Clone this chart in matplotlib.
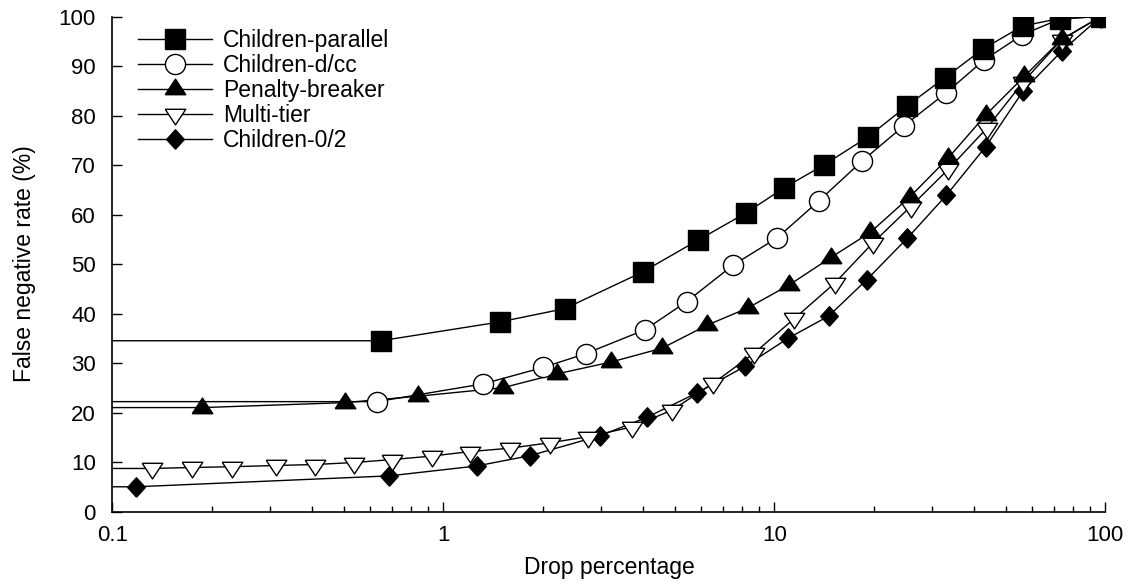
import numpy as np
import matplotlib.pyplot as plt
from matplotlib.lines import Line2D

plt.rcParams["font.family"] = ["Liberation Sans", "DejaVu Sans"]

XMIN, XMAX = 0.1, 100

par_x = [0.647, 1.48, 2.33, 4.0, 5.87, 8.2, 10.7, 14.1, 19.2, 25.1, 32.7, 42.6, 56.3, 72.9, 97]
par_y = [34.5, 38.3, 41.0, 48.4, 54.8, 60.3, 65.4, 70.0, 75.7, 81.9, 87.6, 93.4, 98.1, 99.6, 100]

dcc_x = [0.63, 1.32, 2.0, 2.69, 4.06, 5.43, 7.51, 10.2, 13.6, 18.4, 24.6, 32.9, 43.0, 56.1, 72.9, 97]
dcc_y = [22.2, 25.8, 29.1, 31.9, 36.7, 42.4, 49.8, 55.3, 62.7, 70.8, 77.9, 84.5, 91.2, 96.3, 99.5, 100]

pen_x = [0.187, 0.504, 0.84, 1.51, 2.2, 3.21, 4.58, 6.24, 8.3, 11.1, 14.8, 19.5, 25.7,
         33.5, 43.5, 56.9, 73.8, 97]
pen_y = [21.0, 22.0, 23.3, 25.0, 27.8, 30.2, 33.0, 37.6, 41.1, 45.8, 51.3, 56.4, 63.6,
         71.4, 80.1, 87.9, 95.4, 100]

mt_x = [0.132, 0.174, 0.230, 0.311, 0.409, 0.537, 0.700, 0.921, 1.20, 1.59, 2.10, 2.73,
        3.72, 4.91, 6.53, 8.69, 11.5, 15.2, 19.8, 25.8, 33.5, 43.8, 56.5, 73.8, 97]
mt_y = [8.7, 8.9, 9.05, 9.3, 9.5, 9.9, 10.5, 11.2, 12.1, 12.8, 13.9, 15.1,
        17.1, 20.5, 25.9, 32.0, 39.0, 46.1, 54.2, 61.6, 69.1, 77.4, 86.8, 95.3, 100]

c02_x = [0.118, 0.686, 1.26, 1.83, 2.97, 4.11, 5.85, 8.14, 11.0, 14.6, 19.0, 25.2, 33.1,
         43.5, 56.5, 73.8, 97]
c02_y = [5.0, 7.2, 9.2, 11.3, 15.3, 19.0, 24.0, 29.3, 35.0, 39.5, 46.8, 55.2, 63.9,
         73.7, 85.0, 93.0, 100]

# wide triangles, data point at the centroid
tri_up = [(-1, -0.507), (1, -0.507), (0, 1.013), (-1, -0.507)]
tri_dn = [(-1, 0.507), (1, 0.507), (0, -1.013), (-1, 0.507)]
diamond = [(0, -1.1), (1, 0), (0, 1.1), (-1, 0), (0, -1.1)]

series = [
    ("Children-0/2", c02_x, c02_y, dict(marker=diamond, ms=14, mfc="black")),
    ("Multi-tier", mt_x, mt_y, dict(marker=tri_dn, ms=15, mfc="white")),
    ("Penalty-breaker", pen_x, pen_y, dict(marker=tri_up, ms=15, mfc="black")),
    ("Children-d/cc", dcc_x, dcc_y, dict(marker="o", ms=14.5, mfc="white")),
    ("Children-parallel", par_x, par_y, dict(marker="s", ms=14.2, mfc="black")),
]

fig = plt.figure(figsize=(11.34, 5.84), dpi=100)
ax = fig.add_axes([0.0992, 0.1241, 0.8755, 0.8476])

handles = {}
for name, xs, ys, style in series:
    # line runs flat from the left edge to the first point
    x = [XMIN] + list(xs)
    y = [ys[0]] + list(ys)
    ax.plot(x, y, color="black", lw=1.0, mec="black", mew=1.0,
            markevery=slice(1, None), **style)
    handles[name] = Line2D([], [], color="black", lw=1.0, mec="black", mew=1.0, **style)

ax.set_xscale("log")
ax.set_xlim(XMIN, XMAX)
ax.set_ylim(0, 100)
ax.set_yticks(np.arange(0, 101, 10))
ax.set_xticks([0.1, 1, 10, 100])
ax.set_xticklabels(["0.1", "1", "10", "100"])

for side in ["top", "right"]:
    ax.spines[side].set_visible(False)
for side in ["left", "bottom"]:
    ax.spines[side].set_linewidth(1.2)

ax.tick_params(axis="both", which="major", direction="in", length=7, width=1.0,
               labelsize=16)
ax.tick_params(axis="x", which="major", pad=10)
ax.tick_params(axis="y", which="major", pad=12)
ax.tick_params(axis="x", which="minor", direction="in", length=4.5, width=1.0)

ax.set_xlabel("Drop percentage", fontsize=16.5, labelpad=7)
ax.set_ylabel("False negative rate (%)", fontsize=16.5, labelpad=16)

order = ["Children-parallel", "Children-d/cc", "Penalty-breaker", "Multi-tier", "Children-0/2"]
ax.legend([handles[n] for n in order], order, loc="upper left",
          bbox_to_anchor=(0.026, 0.974), frameon=False, fontsize=16.5,
          handlelength=3.2, handletextpad=0.5, labelspacing=0.08,
          borderpad=0, borderaxespad=0, numpoints=1)

fig.savefig("out.png", dpi=100)
